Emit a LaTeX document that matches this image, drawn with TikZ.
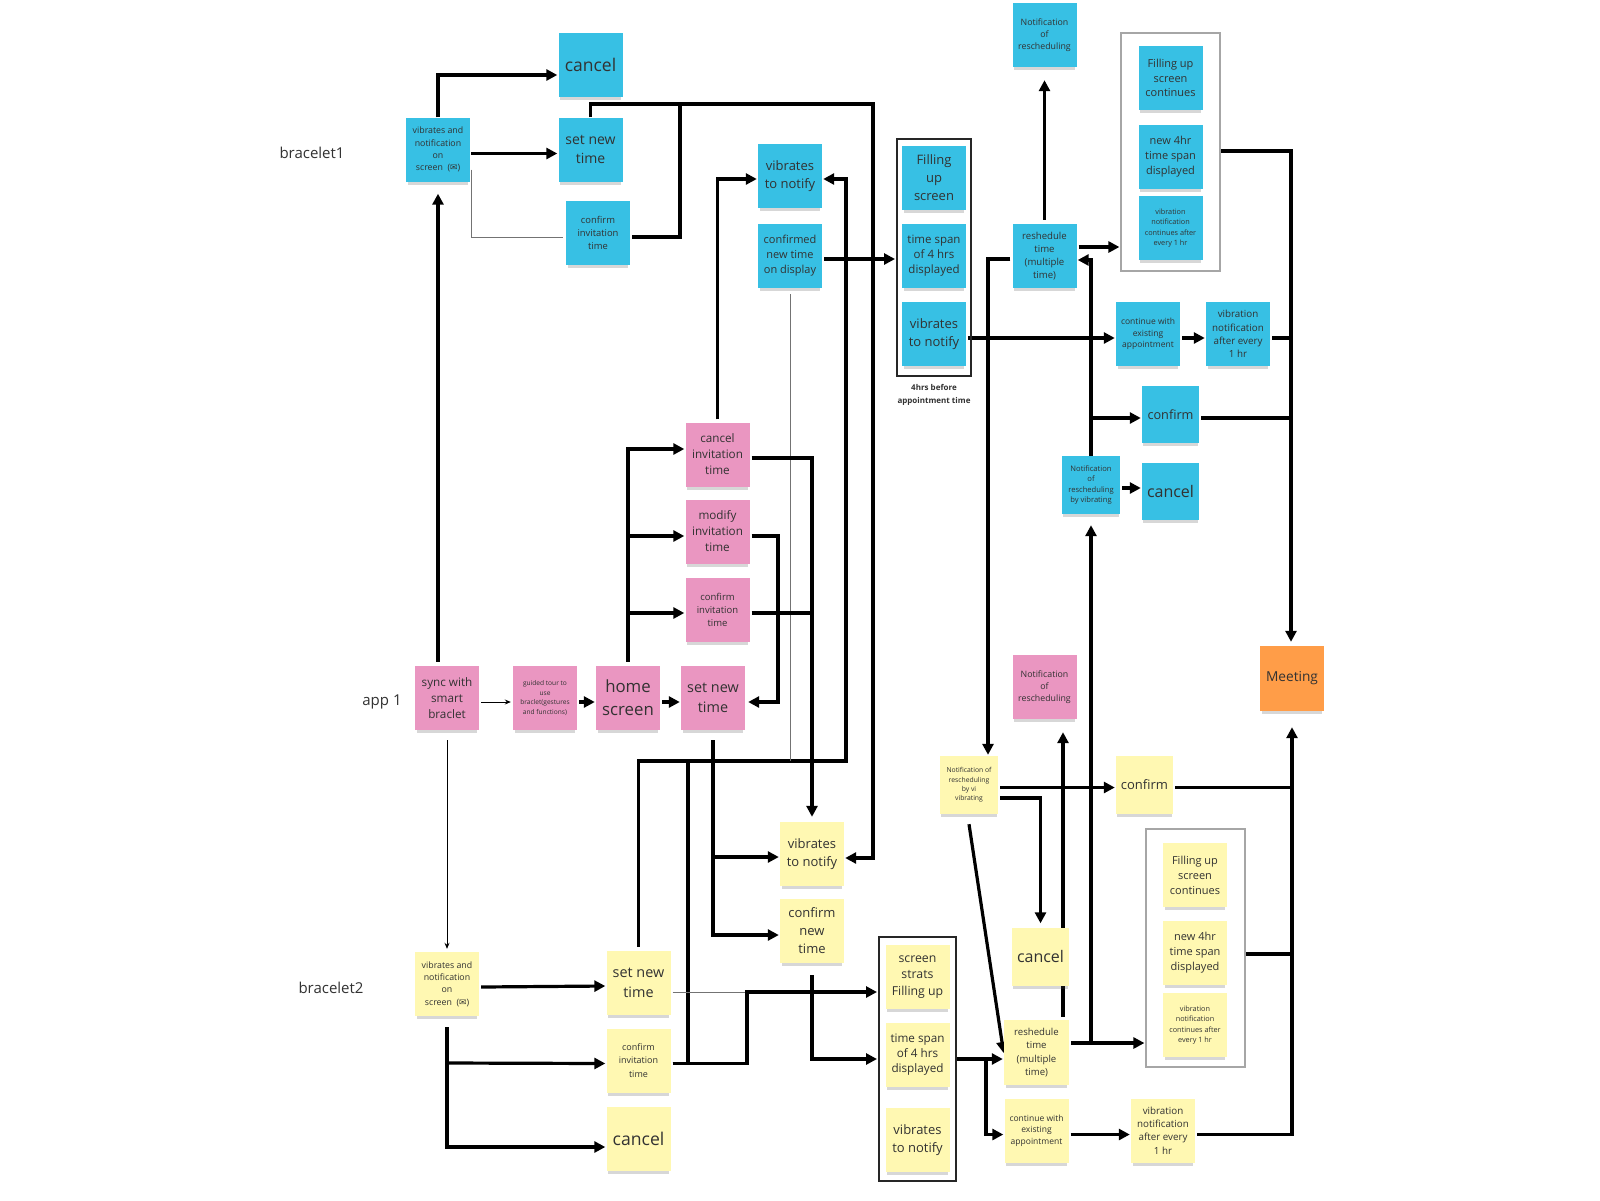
\documentclass[tikz,border=0pt]{standalone}
\usepackage{fontspec}
\setmainfont{Open Sans}
\newfontfamily\symfont{DejaVu Sans}
\usetikzlibrary{arrows.meta,calc,shadows}
\definecolor{stblue}{RGB}{55,192,228}
\definecolor{stpink}{RGB}{234,150,193}
\definecolor{styellow}{RGB}{255,248,178}
\definecolor{storange}{RGB}{255,157,72}
\definecolor{txt}{RGB}{50,50,50}
\newcommand{\fsz}[2]{\fontsize{#1}{#2}\selectfont}
\newcommand{\envl}{{\symfont\char"2709}}
\pgfdeclarelayer{paper}
\pgfdeclarelayer{wires}
\pgfsetlayers{paper,wires,main}
\begin{document}
\begin{tikzpicture}[x=1pt,y=-1pt,
  sticky/.style={rectangle, minimum width=64pt, minimum height=64pt, inner sep=1pt, align=center, text=txt,
    drop shadow={shadow xshift=0pt,shadow yshift=-5pt,opacity=0.22,fill=black!70,shadow scale=0.95}},
  sb/.style={sticky, fill=stblue},
  sp/.style={sticky, fill=stpink},
  sy/.style={sticky, fill=styellow},
  so/.style={sticky, fill=storange},
  small/.style={minimum width=57pt, minimum height=57pt},
  grpbox/.style={draw=black!85, line width=2pt, inner sep=0pt},
  graybox/.style={draw=black!35, line width=1.2pt, inner sep=0pt},
  lbl/.style={text=txt, font=\fsz{15}{18}},
  capt/.style={text=txt, align=center, font=\bfseries\fsz{8}{13}},
  ln/.style={line width=3.2pt, black},
  arr/.style={ln, -{Triangle[length=11pt,width=11pt]}, shorten >=1pt},
  thinln/.style={line width=0.9pt, black!55},
  thinarr/.style={line width=0.9pt, black, -{Stealth[length=6pt,width=5pt]}}
]
\useasboundingbox (0,0) rectangle (1600,1200);
\begin{pgfonlayer}{paper}
\fill[white] (0,0) rectangle (1600,1200);
\end{pgfonlayer}

% group boxes
\node[grpbox, minimum width=74pt, minimum height=237pt] (grpB) at (934,257.5) {};
\node[graybox, minimum width=99pt, minimum height=238pt] (grayB) at (1170.5,152) {};
\node[grpbox, minimum width=77pt, minimum height=244pt] (grpY) at (917.5,1059) {};
\node[graybox, minimum width=99pt, minimum height=238pt] (grayY) at (1195.5,948) {};

% labels
\node[lbl] (lb1) at (312,153) {bracelet1};
\node[lbl] (lapp) at (382,702) {app 1};
\node[lbl] (lb2) at (331,988) {bracelet2};
\node[capt] (capB) at (934,395) {4hrs before\\appointment time};

% blue (bracelet1)
\node[sb, font=\fsz{17.5}{22}] (cancelB1) at (590.5,65) {cancel};
\node[sb, font=\fsz{8.8}{12.2}] (b1vib) at (438,149.5) {vibrates and\\notification\\on\\screen~~(\envl)};
\node[sb, font=\fsz{14}{19}] (setnewB) at (590.5,149.5) {set new\\time};
\node[sb, font=\fsz{9.4}{13.3}] (confinvB) at (598,233) {confirm\\invitation\\time};
\node[sb, font=\fsz{13}{18}] (vibB) at (790,176) {vibrates\\to notify};
\node[sb, font=\fsz{11}{15}] (confnewB) at (790,256) {confirmed\\new time\\on display};
\node[sb, font=\fsz{13}{18}] (fillB) at (934,178) {Filling\\up\\screen};
\node[sb, font=\fsz{11.5}{15}] (spanB) at (934,256) {time span\\of 4 hrs\\displayed};
\node[sb, font=\fsz{13}{18}] (vib2B) at (934,334) {vibrates\\to notify};
\node[sb, font=\fsz{8.8}{11.7}] (notifB) at (1044.5,35) {Notification\\of\\rescheduling};
\node[sb, font=\fsz{9.6}{13}] (reshB) at (1044.5,256) {reshedule\\time\\(multiple\\time)};
\node[sb, font=\fsz{11}{14.8}] (fillcB) at (1170.5,78) {Filling up\\screen\\continues};
\node[sb, font=\fsz{11}{15}] (new4B) at (1170.5,157) {new 4hr\\time span\\displayed};
\node[sb, font=\fsz{7.3}{10.3}] (vibcB) at (1170.5,228) {vibration\\notification\\continues after\\every 1 hr};
\node[sb, font=\fsz{8.5}{11.7}] (contB) at (1148,334) {continue with\\existing\\appointment};
\node[sb, font=\fsz{9.8}{13.2}] (vibnB) at (1238,334) {vibration\\notification\\after every\\1 hr};
\node[sb, small, font=\fsz{12.7}{16}] (confirmB) at (1170.5,414.5) {confirm};
\node[sb, small, minimum width=58pt, minimum height=58pt, font=\fsz{7.6}{10.4}] (notifvB) at (1091,485) {Notification\\of\\rescheduling\\by vibrating};
\node[sb, small, font=\fsz{16}{20}] (cancelB2) at (1170.5,491) {cancel};
\node[so, minimum height=65pt, font=\fsz{13.7}{17}] (meeting) at (1292,678.5) {Meeting};

% pink (app)
\node[sp, font=\fsz{11.7}{16}] (syncP) at (447,698) {sync with\\smart\\braclet};
\node[sp, font=\fsz{6.6}{9.4}] (guideP) at (545,698) {guided tour to\\use\\braclet(gestures\\and functions)};
\node[sp, font=\fsz{16.8}{23}] (homeP) at (628,698) {home\\screen};
\node[sp, font=\fsz{14.4}{19.5}] (setnewP) at (713,698) {set new\\time};
\node[sp, font=\fsz{11.7}{16}] (cancelinvP) at (717.5,454.5) {cancel\\invitation\\time};
\node[sp, font=\fsz{11.7}{16}] (modifyP) at (717.5,531.5) {modify\\invitation\\time};
\node[sp, font=\fsz{9.5}{13.3}] (confinvP) at (717.5,610) {confirm\\invitation\\time};
\node[sp, font=\fsz{8.8}{11.7}] (notifP) at (1044.5,687) {Notification\\of\\rescheduling};

% yellow (bracelet2)
\node[sy, font=\fsz{8.8}{12.4}] (b2vib) at (447,984) {vibrates and\\notification\\on\\screen~~(\envl)};
\node[sy, font=\fsz{14.4}{19.5}] (setnewY) at (638.5,983) {set new\\time};
\node[sy, font=\fsz{9}{13.4}] (confinvY) at (638.5,1060.5) {confirm\\invitation\\time};
\node[sy, font=\fsz{17.6}{22}] (cancelY) at (638.5,1139) {cancel};
\node[sy, font=\fsz{13}{18}] (vibY) at (812,854) {vibrates\\to notify};
\node[sy, font=\fsz{13}{18}] (confnewY) at (812,931) {confirm\\new\\time};
\node[sy, font=\fsz{12.3}{16.8}] (fillY) at (917.5,977) {screen\\strats\\Filling up};
\node[sy, font=\fsz{11.7}{15}] (spanY) at (917.5,1055) {time span\\of 4 hrs\\displayed};
\node[sy, font=\fsz{13}{18}] (vib2Y) at (917.5,1140) {vibrates\\to notify};
\node[sy, small, minimum width=58pt, minimum height=58pt, font=\fsz{6.8}{9.2}] (notifvY) at (969,785) {Notification of\\rescheduling\\by vi\\vibrating};
\node[sy, small, minimum height=58pt, font=\fsz{13}{17}] (confirmY) at (1144.5,785) {confirm};
\node[sy, small, minimum height=58pt, font=\fsz{16}{20}] (cancelY2) at (1040.5,956.5) {cancel};
\node[sy, minimum width=65pt, minimum height=65pt, font=\fsz{9.6}{13.2}] (reshY) at (1036.5,1052.5) {reshedule\\time\\(multiple\\time)};
\node[sy, font=\fsz{8.5}{11.7}] (contY) at (1036.5,1130.5) {continue with\\existing\\appointment};
\node[sy, font=\fsz{9.8}{13.2}] (vibnY) at (1163,1130.5) {vibration\\notification\\after every\\1 hr};
\node[sy, font=\fsz{11}{15}] (fillcY) at (1195,875) {Filling up\\screen\\continues};
\node[sy, font=\fsz{11}{15}] (new4Y) at (1195,953) {new 4hr\\time span\\displayed};
\node[sy, font=\fsz{7.3}{10.3}] (vibcY) at (1195,1025) {vibration\\notification\\continues after\\every 1 hr};

% junction coordinates
\coordinate (j1) at (680,104);
\coordinate (j2) at (873,104);
\coordinate (j3) at (846,761);
\coordinate (j4) at (688,761);
\coordinate (j5) at (790,761);
\coordinate (j6) at (1291,338);
\coordinate (j7) at (1291,418);
\coordinate (j8) at (1091,418);
\coordinate (j9) at (1091,1043);
\coordinate (j10) at (986,1059);
\coordinate (j11) at (1292,787.5);
\coordinate (j12) at (1292,954);
\coordinate (j13) at (628,536);
\coordinate (j14) at (628,613);
\coordinate (j15) at (812,613);
\coordinate (j16) at (778,536);
\coordinate (j17) at (713,857);
\coordinate (j18) at (447,1063);
\coordinate (j19) at (747,992);

\begin{pgfonlayer}{wires}
% connectors: bracelet1
\draw[arr] (b1vib.north) |- ($(cancelB1.west)+(0,10)$);
\draw[arr] ($(b1vib.east)+(1,4)$) -- ($(setnewB.west)+(0,4)$);
\draw[thinln] ($(b1vib.east)+(1,20)$) |- ($(confinvB.west)+(-3,4)$);
\draw[ln] ($(confinvB.east)+(2,4)$) -| (j1);
\draw[arr] (setnewB.north) |- (j2) |- ($(vibY.east)+(0,4)$);
\draw[arr] ($(cancelinvP.north)+(0,-3)$) |- ($(vibB.west)+(0,3)$);
\draw[arr] ($(setnewY.north)+(0,-4)$) |- (j3) |- ($(vibB.east)+(0,3)$);
\draw[ln] ($(confinvY.east)+(2,3)$) -| (j4);
\draw[arr] ($(confnewB.east)+(2,3)$) -- ($(grpB.west)+(0,1.5)$);
\draw[thinln] ($(confnewB.south)+(0,6)$) -- (j5);
\draw[arr] ($(reshB.west)+(-2,3)$) -| ($(notifvY.north)+(19,0)$);
\draw[arr] ($(reshB.north)+(0,-4)$) -- ($(notifB.south)+(0,12)$);
\draw[arr] ($(reshB.east)+(2,-9)$) -- ($(grayB.west)+(0,95)$);
\draw[arr] ($(vib2B.east)+(2,4)$) -- ($(contB.west)+(0,4)$);
\draw[arr] ($(contB.east)+(2,4)$) -- ($(vibnB.west)+(0,4)$);
\draw[ln] ($(vibnB.east)+(2,4)$) -- (j6);
\draw[arr] ($(grayB.east)+(0,-1)$) -| ($(meeting.north)+(-1,-3)$);
\draw[ln] ($(confirmB.east)+(2,3.5)$) -- (j7);
\draw[arr] (notifvB.north) |- ($(reshB.east)+(0,4)$);
\draw[arr] (j8) -- ($(confirmB.west)+(0,3.5)$);
\draw[arr] ($(notifvB.east)+(2,3)$) -- ($(cancelB2.west)+(0,-3)$);

% connectors: bracelet2 side
\draw[arr] ($(reshY.east)+(2,-9.5)$) -- ($(grayY.west)+(0,95)$);
\draw[arr] (j9) -- ($(notifvB.south)+(0,10)$);
\draw[arr] ($(reshY.north)+(26.5,-3)$) -- ($(notifP.south)+(18.5,12)$);
\draw[arr] ($(notifvY.east)+(2,2.5)$) -- ($(confirmY.west)+(0,2.5)$);
\draw[arr] ($(notifvY.east)+(2,13)$) -| ($(cancelY2.north)+(0,-3)$);
\draw[arr] ($(notifvY.south)+(0,10)$) -- ($(reshY.west)+(0,1.5)$);
\draw[arr] (grpY.east) -- ($(reshY.west)+(0,6.5)$);
\draw[arr] (j10) |- ($(contY.west)+(0,4)$);
\draw[arr] ($(contY.east)+(2,4)$) -- ($(vibnY.west)+(0,4)$);
\draw[arr] ($(vibnY.east)+(2,4)$) -| ($(meeting.south)+(0,15)$);
\draw[ln] ($(confirmY.east)+(2,2.5)$) -- (j11);
\draw[ln] ($(grayY.east)+(0,6)$) -- (j12);

% connectors: app
\draw[arr] ($(syncP.north)+(-9,-4)$) -- ($(b1vib.south)+(0,11)$);
\draw[thinarr] ($(syncP.south)+(0,10)$) -- ($(b2vib.north)+(0,-3)$);
\draw[thinarr] ($(syncP.east)+(2,4)$) -- ($(guideP.west)+(-2,4)$);
\draw[arr] ($(guideP.east)+(2,4)$) -- ($(homeP.west)+(0,4)$);
\draw[arr] ($(homeP.east)+(2,4)$) -- ($(setnewP.west)+(0,4)$);
\draw[arr] ($(homeP.north)+(0,-4)$) |- ($(cancelinvP.west)+(0,-5.5)$);
\draw[arr] (j13) -- ($(modifyP.west)+(0,4.5)$);
\draw[arr] (j14) -- ($(confinvP.west)+(0,3)$);
\draw[arr] ($(cancelinvP.east)+(2,3.5)$) -| ($(vibY.north)+(0,-4)$);
\draw[ln] ($(confinvP.east)+(2,3)$) -- (j15);
\draw[arr] ($(modifyP.east)+(2,4.5)$) -- (j16) |- ($(setnewP.east)+(2,4)$);
\draw[arr] ($(setnewP.south)+(0,10)$) |- ($(confnewY.west)+(0,4)$);
\draw[arr] (j17) -- ($(vibY.west)+(0,3)$);

% connectors: bracelet2
\draw[arr] ($(b2vib.east)+(2,3)$) -- ($(setnewY.west)+(0,3)$);
\draw[arr] ($(b2vib.south)+(0,11)$) |- ($(cancelY.west)+(0,8)$);
\draw[arr] (j18) -- ($(confinvY.west)+(0,3)$);
\draw[thinln] ($(setnewY.east)+(2,9)$) -- (j19);
\draw[arr] ($(confinvY.east)+(2,3)$) -| (j19) -- ($(grpY.west)+(0,-67)$);
\draw[arr] ($(confnewY.south)+(0,12)$) |- (grpY.west);
\end{pgfonlayer}
\end{tikzpicture}
\end{document}
